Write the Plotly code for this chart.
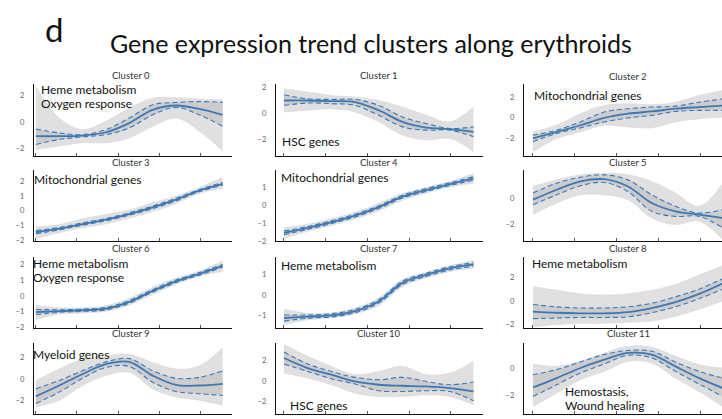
import plotly.graph_objects as go

# Pseudotime positions (normalised 0..1) at which each trend is sampled
X = [0, 0.125, 0.25, 0.375, 0.5, 0.625, 0.75, 0.875, 1.0]

CLUSTERS = ["Cluster 0", "Cluster 1", "Cluster 2", "Cluster 3", "Cluster 4", "Cluster 5",
            "Cluster 6", "Cluster 7", "Cluster 8", "Cluster 9", "Cluster 10", "Cluster 11"]

# Cluster mean trend (z-scored expression)
MEAN = [
    [-1.08, -1.08, -1.03, -0.78, -0.08, 0.93, 1.26, 1.00, 0.55],
    [1.02, 1.02, 0.97, 0.90, 0.26, -0.64, -1.08, -1.20, -1.41],
    [-2.00, -1.37, -0.73, -0.03, 0.38, 0.60, 0.86, 1.02, 1.17],
    [-1.46, -1.23, -0.91, -0.61, -0.22, 0.24, 0.77, 1.39, 1.85],
    [-1.54, -1.26, -0.94, -0.57, -0.09, 0.50, 0.87, 1.20, 1.52],
    [-0.12, 0.63, 1.26, 1.43, 0.88, -0.37, -1.00, -1.25, -1.50],
    [-1.02, -0.96, -0.91, -0.81, -0.38, 0.32, 0.93, 1.40, 1.91],
    [-1.13, -1.06, -1.00, -0.79, -0.32, 0.59, 0.98, 1.30, 1.49],
    [-0.90, -1.00, -1.05, -1.05, -0.95, -0.60, -0.10, 0.60, 1.50],
    [-1.64, -0.62, 0.46, 1.39, 1.60, 0.31, -0.56, -0.62, -0.46],
    [2.27, 1.29, 0.64, -0.02, -0.34, -0.44, -0.51, -0.67, -1.00],
    [-1.45, -0.75, 0.00, 0.62, 1.12, 1.00, 0.12, -0.75, -1.50],
]

# Upper / lower dashed spread around the mean
DASH_HI = [
    [-0.53, -0.83, -0.96, -0.58, 0.30, 1.31, 1.49, 1.56, 1.51],
    [1.46, 1.15, 1.10, 1.10, 0.64, -0.26, -0.77, -1.15, -1.03],
    [-1.68, -1.20, -0.41, 0.54, 0.86, 1.02, 1.11, 1.49, 1.81],
    [-1.35, -1.15, -0.83, -0.53, -0.14, 0.33, 0.86, 1.46, 1.95],
    [-1.44, -1.18, -0.86, -0.49, -0.01, 0.58, 0.95, 1.28, 1.62],
    [0.38, 1.13, 1.58, 1.76, 1.38, 0.26, -0.62, -1.13, -0.87],
    [-0.85, -0.88, -0.84, -0.73, -0.30, 0.40, 1.01, 1.48, 2.00],
    [-0.98, -0.98, -0.92, -0.71, -0.24, 0.67, 1.06, 1.38, 1.58],
    [-0.30, -0.50, -0.60, -0.60, -0.50, -0.20, 0.35, 1.00, 1.90],
    [-0.93, -0.15, 0.77, 1.60, 1.91, 0.77, 0.06, 0.15, 0.77],
    [2.86, 1.69, 0.96, 0.38, 0.15, 0.38, -0.02, -0.34, -0.08],
    [-0.50, -0.12, 0.45, 1.00, 1.30, 1.25, 0.45, -0.25, -0.75],
]
DASH_LO = [
    [-1.71, -1.33, -1.13, -0.96, -0.45, 0.55, 1.11, 0.55, -0.33],
    [0.64, 0.82, 0.77, 0.64, -0.13, -1.03, -1.28, -1.28, -1.79],
    [-2.32, -1.52, -0.98, -0.41, -0.03, 0.22, 0.60, 0.70, 0.70],
    [-1.57, -1.31, -0.99, -0.69, -0.30, 0.15, 0.68, 1.32, 1.75],
    [-1.64, -1.34, -1.02, -0.65, -0.17, 0.42, 0.79, 1.12, 1.42],
    [-0.50, 0.25, 0.93, 1.18, 0.50, -1.00, -1.38, -1.38, -2.26],
    [-1.18, -1.04, -0.98, -0.89, -0.46, 0.24, 0.85, 1.32, 1.82],
    [-1.28, -1.14, -1.08, -0.87, -0.40, 0.51, 0.90, 1.22, 1.40],
    [-1.50, -1.45, -1.40, -1.40, -1.35, -1.00, -0.50, 0.20, 1.00],
    [-2.31, -1.24, 0.06, 1.08, 1.17, -0.31, -1.18, -1.39, -1.55],
    [1.69, 0.96, 0.25, -0.27, -0.93, -1.00, -0.93, -1.00, -1.91],
    [-2.12, -1.25, -0.37, 0.30, 0.95, 0.75, -0.25, -1.20, -2.12],
]

# Envelope of the individual gene trends in each cluster
BAND_HI = [
    [2.70, 0.30, -0.58, 0.05, 1.06, 1.81, 1.86, 1.76, 1.68],
    [1.92, 1.67, 1.41, 1.28, 1.02, 0.51, -0.13, -0.64, 0.51],
    [-1.37, -0.73, 0.38, 1.17, 1.33, 1.24, 1.49, 2.13, 2.60],
    [-1.10, -0.95, -0.55, -0.25, 0.05, 0.55, 1.00, 1.60, 2.30],
    [-1.25, -1.05, -0.75, -0.38, 0.12, 0.68, 1.02, 1.35, 1.80],
    [0.88, 1.38, 1.76, 1.88, 1.76, 1.26, 0.38, -0.62, 1.13],
    [-0.60, -0.75, -0.75, -0.62, -0.15, 0.55, 1.12, 1.58, 2.20],
    [-0.70, -0.90, -0.88, -0.65, -0.15, 0.75, 1.10, 1.42, 1.68],
    [1.20, 0.90, 0.60, 0.50, 0.60, 0.90, 1.40, 2.20, 3.00],
    [-0.15, 0.93, 1.85, 2.16, 2.31, 1.54, 0.93, 1.23, 2.93],
    [3.58, 2.43, 1.45, 0.64, 0.96, 1.45, 0.64, 0.80, 1.94],
    [0.30, 0.12, 0.50, 1.12, 1.62, 1.55, 0.87, 0.25, 0.00],
]
BAND_LO = [
    [-2.09, -1.84, -1.58, -1.58, -1.21, -0.33, 0.30, -0.70, -2.20],
    [0.13, 0.26, 0.38, 0.13, -0.64, -1.67, -2.05, -1.92, -2.95],
    [-3.27, -2.00, -1.37, -0.73, -0.89, -0.98, -0.41, -0.10, 0.06],
    [-1.90, -1.50, -1.15, -0.90, -0.50, -0.05, 0.50, 1.20, 1.55],
    [-1.85, -1.45, -1.12, -0.75, -0.30, 0.30, 0.70, 1.05, 1.25],
    [-1.25, -0.37, 0.25, 0.25, -0.12, -1.50, -2.00, -1.75, -3.13],
    [-1.50, -1.15, -1.08, -0.98, -0.58, 0.10, 0.75, 1.25, 1.55],
    [-1.45, -1.22, -1.12, -0.92, -0.52, 0.40, 0.85, 1.15, 1.32],
    [-2.20, -2.00, -1.90, -1.90, -1.80, -1.70, -1.30, -0.70, 0.00],
    [-2.62, -2.00, -0.62, 0.31, 0.62, -0.93, -1.70, -2.00, -2.47],
    [0.80, 0.32, -0.34, -1.16, -1.49, -1.49, -1.33, -1.49, -2.30],
    [-2.87, -1.87, -0.87, -0.25, 0.50, 0.37, -0.75, -1.75, -2.87],
]

# Gene-set labels per cluster
GENE_SETS = [
    ["Heme metabolism", "Oxygen response"],
    ["HSC genes"],
    ["Mitochondrial genes"],
    ["Mitochondrial genes"],
    ["Mitochondrial genes"],
    [],
    ["Heme metabolism", "Oxygen response"],
    ["Heme metabolism"],
    ["Heme metabolism"],
    ["Myeloid genes"],
    ["HSC genes"],
    ["Hemostasis,", "Wound healing"],
]

# Y tick values shown on each panel
Y_TICKS = [
    [-2, 0, 2], [-2, 0, 2], [-2, 0, 2],
    [-2, -1, 0, 1, 2], [-2, -1, 0, 1], [-2, 0],
    [-2, -1, 0, 1, 2], [-1, 0, 1], [-2, 0, 2],
    [-2, 0, 2], [-2, 0, 2], [-2, 0],
]

# ---------------------------------------------------------------- layout
W, H = 722, 419
FONT = "Lato"
BLUE = "#3d78b6"


def px(x):
    return x / W


def py(y):
    return 1 - y / H


COL_PX = [(34, 232), (276, 483), (524, 722)]
COL_XRANGE = [(-0.01, 1.05), (-0.042, 1.05), (-0.047, 0.995)]
ROW_PX = [(85, 158), (172, 244), (260, 332), (347, 419)]
Y_RANGES = [
    (-2.6, 2.9), (-3.3, 2.3), (-3.7, 3.24),
    (-2.08, 2.81), (-2.0, 2.0), (-3.25, 2.13),
    (-2.04, 2.48), (-1.62, 1.86), (-2.3, 3.74),
    (-3.3, 3.39), (-3.2, 3.75), (-3.42, 1.87),
]
TITLE_POS = [(131, 76), (379, 76), (628, 77),
             (131, 164), (379, 164), (628, 164),
             (131, 252), (379, 252), (628, 252),
             (131, 338), (379, 338), (628, 338)]
LABEL_POS = [(39, 91, 14), (280, 143, 14), (532, 97, 14),
             (32, 182, 14), (279, 180, 14), (0, 0, 14),
             (31, 267, 14), (279, 269, 14), (530, 267, 14),
             (31, 359, 14), (288, 410, 14), (563, 396, 14.5)]

fig = go.Figure()
annotations = []

for i, name in enumerate(CLUSTERS):
    r, c = divmod(i, 3)
    ax = "" if i == 0 else str(i + 1)
    xa, ya = "x" + ax, "y" + ax

    # gene envelope
    fig.add_trace(go.Scatter(x=X, y=BAND_LO[i], mode="lines", line=dict(color="#d6d6d6", width=0.6, shape="spline"),
                             xaxis=xa, yaxis=ya, showlegend=False, hoverinfo="skip"))
    fig.add_trace(go.Scatter(x=X, y=BAND_HI[i], mode="lines", line=dict(color="#d6d6d6", width=0.6, shape="spline"),
                             fill="tonexty", fillcolor="rgba(214,214,214,0.75)",
                             xaxis=xa, yaxis=ya, showlegend=False, hoverinfo="skip"))
    # denser core between the dashed lines
    fig.add_trace(go.Scatter(x=X, y=DASH_LO[i], mode="lines", line=dict(width=0, shape="spline"),
                             xaxis=xa, yaxis=ya, showlegend=False, hoverinfo="skip"))
    fig.add_trace(go.Scatter(x=X, y=DASH_HI[i], mode="lines", line=dict(width=0, shape="spline"),
                             fill="tonexty", fillcolor="rgba(180,180,180,0.45)",
                             xaxis=xa, yaxis=ya, showlegend=False, hoverinfo="skip"))
    for d in (DASH_HI[i], DASH_LO[i]):
        fig.add_trace(go.Scatter(x=X, y=d, mode="lines",
                                 line=dict(color=BLUE, width=1.1, dash="5px,3px", shape="spline"),
                                 xaxis=xa, yaxis=ya, showlegend=False, hoverinfo="skip"))
    fig.add_trace(go.Scatter(x=X, y=MEAN[i], mode="lines", line=dict(color=BLUE, width=1.8, shape="spline"),
                             xaxis=xa, yaxis=ya, showlegend=False, name=name))

    x0, x1 = COL_PX[c]
    y0, y1 = ROW_PX[r]
    fig.layout["xaxis" + ax] = dict(
        domain=[px(x0), px(x1)], range=list(COL_XRANGE[c]), anchor=ya,
        showline=True, linecolor="#111", linewidth=1.4, showgrid=False, zeroline=False,
        tickvals=[0, 0.22, 0.44, 0.66, 0.88], showticklabels=False,
        ticks="inside", ticklen=3, tickcolor="#555", tickwidth=1,
    )
    fig.layout["yaxis" + ax] = dict(
        domain=[py(y1), py(y0)], range=list(Y_RANGES[i]), anchor=xa,
        showline=True, linecolor="#111", linewidth=1.4, showgrid=False, zeroline=False,
        tickvals=Y_TICKS[i], ticks="outside", ticklen=7, tickcolor="rgba(0,0,0,0)",
        tickfont=dict(family=FONT, size=7.5, color="#666"),
    )

    tx, ty = TITLE_POS[i]
    annotations.append(dict(text=name, x=px(tx), y=py(ty), xref="paper", yref="paper",
                            xanchor="center", yanchor="middle", showarrow=False,
                            font=dict(family=FONT, size=9.5, color="#333")))
    lx, ly, step = LABEL_POS[i]
    for k, line in enumerate(GENE_SETS[i]):
        annotations.append(dict(text=line, x=px(lx), y=py(ly + k * step), xref="paper", yref="paper",
                                xanchor="left", yanchor="middle", showarrow=False,
                                font=dict(family=FONT, size=12, color="#111")))

annotations.append(dict(text="d", x=px(43), y=py(29), xref="paper", yref="paper",
                        xanchor="left", yanchor="middle", showarrow=False,
                        font=dict(family=FONT, size=33, color="#111")))
annotations.append(dict(text="Gene expression trend clusters along erythroids", x=px(108), y=py(44),
                        xref="paper", yref="paper", xanchor="left", yanchor="middle", showarrow=False,
                        font=dict(family=FONT, size=25, color="#111")))

fig.update_layout(
    width=W, height=H, margin=dict(l=0, r=0, t=0, b=0),
    paper_bgcolor="white", plot_bgcolor="white",
    annotations=annotations, showlegend=False,
)

fig.write_html("out.html")
